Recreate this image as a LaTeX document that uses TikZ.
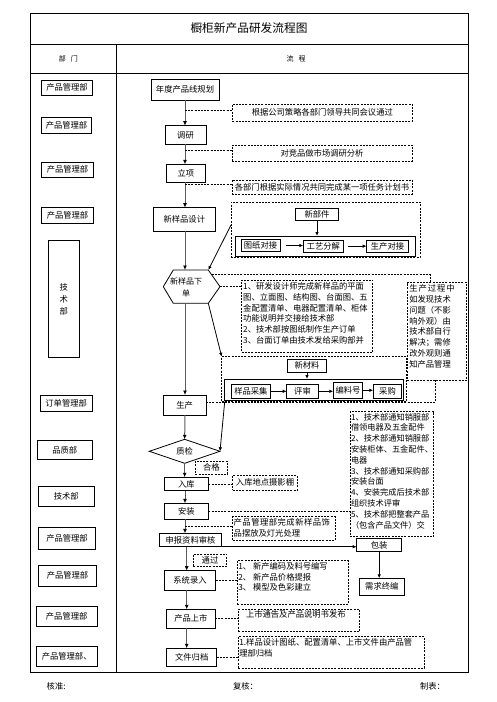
\documentclass[tikz,border=0pt]{standalone}
\usepackage{fontspec}
\setmainfont{Noto Sans CJK SC}
\usetikzlibrary{calc,arrows.meta}
\newcommand\bx[7]{\node[#7, minimum width={(#4-#2)*1pt}, minimum height={(#5-#3)*1pt}] (#1) at ({(#2+#4)/2},{(#3+#5)/2}) {#6};}
\tikzset{
  every node/.style={inner sep=0pt, outer sep=0pt, font=\fontsize{8.3}{10}\selectfont},
  tbl/.style={line width=0.9pt},
  sbox/.style={draw, line width=0.8pt},
  dbox/.style={draw, line width=0.7pt, dash pattern=on 2pt off 1.2pt},
  dline/.style={line width=0.7pt, dash pattern=on 2pt off 1.2pt},
  arr/.style={line width=1pt, draw=black!65, -{Latex[length=4.5pt,width=4pt,fill=black,color=black]}},
  sarr/.style={line width=0.8pt, -{Latex[length=4pt,width=3.5pt]}},
  ntxt/.style={align=left, font=\fontsize{8.3}{10.8}\selectfont, anchor=north west},
}
\begin{document}
\begin{tikzpicture}[x=1pt,y=-1pt]
\useasboundingbox (0,0) rectangle (496,702);
% table frame
\draw[tbl] (30,13) rectangle (468,672);
\draw[tbl] (30,44) -- (468,44);
\draw[tbl] (30,73) -- (468,73);
\draw[tbl] (116.7,44) -- (116.7,672);
\node[font=\fontsize{11.7}{14}\selectfont] (ttl) at (249,28.5) {橱柜新产品研发流程图};
\node[font=\fontsize{7}{9}\selectfont] (h1) at (68.3,58.5) {部\hspace{5pt}门};
\node[font=\fontsize{7}{9}\selectfont] (h2) at (296,58.5) {流\hspace{5pt}程};
\node[anchor=west] (k1) at (46.7,686) {核准:};
\node[anchor=west] (k2) at (233,686) {复核：};
\node[anchor=west] (k3) at (420,686) {制表：};
% departments
\bx{d1}{41.7}{80}{92.3}{95}{产品管理部}{sbox}
\bx{d2}{41.7}{117.7}{91.3}{133.3}{产品管理部}{sbox}
\bx{d3}{41.7}{162.3}{93.3}{177.3}{产品管理部}{sbox}
\bx{d4}{41.7}{207.7}{93.3}{223.3}{产品管理部}{sbox}
\bx{d5}{48.3}{240.7}{79.3}{357}{技\\[2pt]术\\[2pt]部}{sbox,align=center}
\bx{d6}{40}{395}{92.3}{411.7}{订单管理部}{sbox}
\bx{d7}{37.3}{440.7}{92.3}{459.3}{品质部}{sbox}
\bx{d8}{38.3}{486}{94.3}{506.7}{技术部}{sbox}
\bx{d9}{38.3}{527}{95.7}{549.3}{产品管理部}{sbox}
\bx{d10}{38.3}{565.7}{96.7}{586}{产品管理部}{sbox}
\bx{d11}{36}{606}{97.3}{626.7}{产品管理部}{sbox}
\bx{d12}{36}{646.7}{97.3}{666.7}{产品管理部、}{sbox}
% flow boxes
\bx{f1}{151}{79.3}{219}{100}{年度产品线规划}{sbox}
\bx{f2}{165}{125.7}{206}{144.3}{调研}{sbox}
\bx{f3}{166.7}{164.3}{205}{182.3}{立项}{sbox}
\bx{f4}{153.3}{207.7}{215.3}{231}{新样品设计}{sbox}
\node[align=center, font=\fontsize{8}{11.4}\selectfont] (hx) at (186,287.5) {新样品下\\单};
\coordinate (hxw) at (163.3,286.65);
\coordinate (hxnw) at (173.3,270);
\coordinate (hxne) at (208.3,270);
\coordinate (hxe) at (220,286.65);
\coordinate (hxse) at (208.3,303.3);
\coordinate (hxsw) at (173.3,303.3);
\coordinate (hxn) at (185,270);
\coordinate (hxs) at (185,303.3);
\draw[sbox] (hxw) -- (hxnw) -- (hxne) -- (hxe) -- (hxse) -- (hxsw) -- cycle;
\bx{sc}{163.3}{395}{206}{415}{生产}{sbox}
\node (q) at (184.65,451.3) {质检};
\coordinate (qw) at (149.3,451.3);
\coordinate (qn) at (184.65,439.3);
\coordinate (qe) at (220,451.3);
\coordinate (qs) at (184.65,463.3);
\draw[sbox] (qw) -- (qn) -- (qe) -- (qs) -- cycle;
\bx{rk}{164.3}{477.3}{208.3}{490.7}{入库}{sbox}
\bx{az}{164.3}{503.3}{208.3}{519.3}{安装}{sbox}
\bx{sh}{159.3}{533.3}{221.7}{546.7}{申报资料审核}{sbox}
\bx{xt}{164.3}{570.7}{215.7}{590}{系统录入}{sbox}
\bx{ss}{166.7}{609.3}{215}{628.3}{产品上市}{sbox}
\bx{wj}{166.7}{648.3}{216.7}{666}{文件归档}{sbox}
% notes
\bx{n1}{232.3}{104.3}{412.3}{121}{根据公司策略各部门领导共同会议通过}{dbox}
\bx{n2}{232}{145}{412}{161}{对竞品做市场调研分析}{dbox}
\bx{n3}{232}{180}{412}{194}{各部门根据实际情况共同完成某一项任务计划书}{dbox}
\bx{big}{231}{202.3}{420}{257.3}{}{dbox}
\bx{xb}{295.7}{208.3}{338.3}{220}{新部件}{sbox}
\bx{in1}{235}{236}{415.7}{256.7}{}{sbox}
\bx{tz}{241}{239.3}{280}{251.7}{图纸对接}{sbox}
\bx{gy}{303.3}{240}{343.3}{252.3}{工艺分解}{sbox}
\bx{sd}{366.7}{240.7}{408.3}{252.3}{生产对接}{sbox}
\bx{n4}{241.7}{280}{372.7}{352}{}{dbox}
\node[ntxt] (n4t) at ($(n4.north west)+(1.5,2.5)$) {1、研发设计师完成新样品的平面\\图、立面图、结构图、台面图、五\\金配置清单、电器配置清单、柜体\\功能说明并交接给技术部\\2、技术部按图纸制作生产订单\\3、台面订单由技术发给采购部并};
\bx{n5}{407.3}{282.7}{466.7}{380}{}{dbox}
\node[ntxt] (n5t) at ($(n5.north west)+(2,2)$) {\addfontfeatures{LetterSpace=12}生产过程中\\如发现技术\\问题（不影\\响外观）由\\技术部自行\\解决；需修\\改外观则通\\知产品管理};
\bx{mat}{221.7}{356.7}{406.7}{401.7}{}{dbox}
\bx{xc}{287.3}{359}{326.7}{372.3}{新材料}{sbox}
\bx{in2}{224}{379}{403.3}{400}{}{sbox}
\bx{yp}{231.7}{384.3}{270}{398.3}{样品采集}{sbox}
\bx{ps}{286.7}{384.3}{318.3}{398.3}{评审}{sbox}
\bx{bl}{333.3}{382.3}{362.7}{398.3}{编料号}{sbox}
\bx{cg}{373.3}{384.3}{401.7}{398.3}{采购}{sbox}
\bx{tn}{350}{411.7}{433.3}{536.7}{}{dbox}
\node[ntxt,font=\fontsize{8.2}{10.8}\selectfont] (tnt) at ($(tn.north west)+(1,1.5)$) {1、技术部通知销服部\\借领电器及五金配件\\2、技术部通知销服部\\安装柜体、五金配件、\\电器\\3、技术部通知采购部\\安装台面\\4、安装完成后技术部\\组织技术评审\\5、技术部把整套产品\\（包含产品文件）交};
\bx{hg}{195.3}{461.3}{227.3}{474.3}{合格}{dbox}
\bx{rkn}{232.7}{475.7}{297.3}{490}{入库地点摄影棚}{dbox}
\bx{pn}{232.7}{516.7}{335}{540}{}{dbox}
\node[ntxt] (pnt) at ($(pn.north west)+(1,1.5)$) {\addfontfeatures{LetterSpace=6}产品管理部完成新样品饰\\品摆放及灯光处理};
\bx{bz}{356.7}{538}{401.7}{551.7}{包装}{sbox}
\bx{xq}{359.3}{578.3}{404.3}{595}{需求终编}{sbox}
\bx{tg}{193.3}{554}{226.7}{566.7}{通过}{dbox}
\bx{sn}{237.3}{560.7}{348.3}{604}{}{dbox}
\node[ntxt] (snt) at ($(sn.north west)+(1,1.5)$) {1、 新产编码及料号编写\\2、 新产品价格提报\\3、 模型及色彩建立};
\bx{ssn}{238.3}{609.3}{359.3}{631.7}{}{dbox}
\node[anchor=north] (ssnt) at ($(ssn.north)+(-3,1.5)$) {上市通告及产品说明书发布};
\bx{wjn}{238.3}{636.7}{424}{668.3}{}{dbox}
\node[ntxt] (wjnt) at ($(wjn.north west)+(1,2)$) {1.样品设计图纸、配置清单、上市文件由产品管\\理部归档};
% main arrows
\coordinate (ax) at (185,0);
\coordinate (ay) at (186.7,0);
\draw[arr] (f1.south -| ax) -- (f2.north -| ax);
\draw[arr] (f2.south -| ax) -- (f3.north -| ax);
\draw[arr] (f3.south -| ax) -- (f4.north -| ax);
\draw[arr] (f4.south -| ax) -- (hxn);
\draw[arr] (hxs) -- (sc.north -| ax);
\draw[arr] (sc.south -| ax) -- (qn);
\draw[arr] (qs) -- (rk.north -| qs);
\draw[arr] (rk.south -| ax) -- (az.north -| ax);
\draw[arr] (az.south -| ax) -- (sh.north -| ax);
\draw[arr] (sh.south -| ay) -- (xt.north -| ay);
\draw[arr] (xt.south -| ay) -- (ss.north -| ay);
\draw[arr] (ss.south -| ay) -- (wj.north -| ay);
% dashed connectors
\coordinate (j1) at (185,110);
\coordinate (j2) at (185,150);
\coordinate (j3) at (185,184.5);
\coordinate (j4) at (211.5,274.5);
\coordinate (j5) at (185,526);
\draw[dline] (j1) -- (j1 -| n1.west);
\draw[dline] (j2) -- (j2 -| n2.west);
\draw[dline] (j3) -- (j3 -| n3.west);
\draw[dline] (hxe) -- (hxe -| n4.west);
\draw[dline] (j4) -| ([xshift=-7pt]n5.north);
\draw[dline] ([yshift=3pt]sc.east) -| ([xshift=-1.7pt]n5.south);
\draw[dline] (rk.east) -- (rk.east -| rkn.west);
\draw[dline] (az.east) -- (az.east -| tn.west);
\draw[dline] (j5) -- (j5 -| pn.west);
\draw[dline] (xt.east) -- (xt.east -| sn.west);
\draw[dline] (ss.east) -- (ss.east -| ssn.west);
\draw[dline] (wj.east) -- (wj.east -| wjn.west);
% solid side arrows
\coordinate (d1) at (231,225);
\draw[sarr] (d1) -- (hxne);
\draw[sarr] (hxse) -- (mat.north west);
\draw[sarr] ([xshift=3pt]mat.south west) -- (qe);
\draw[sarr] (sh.south east) -- (sh.south east -| bz.west);
\draw[sarr] (bz.south) -- (bz.south |- xq.north);
\draw[sarr] (xb.south) -- (xb.south |- in1.north);
\draw[sarr] ([xshift=6pt]tz.east) -- (tz.east -| gy.west);
\draw[sarr] ([xshift=5pt]gy.east) -- (gy.east -| sd.west);
\draw[sarr] (xc.south) -- (xc.south |- in2.north);
\draw[sarr] (yp.east) -- (yp.east -| ps.west);
\draw[sarr] (ps.east) -- (ps.east -| bl.west);
\draw[sarr] (bl.east) -- (bl.east -| cg.west);
\end{tikzpicture}
\end{document}
